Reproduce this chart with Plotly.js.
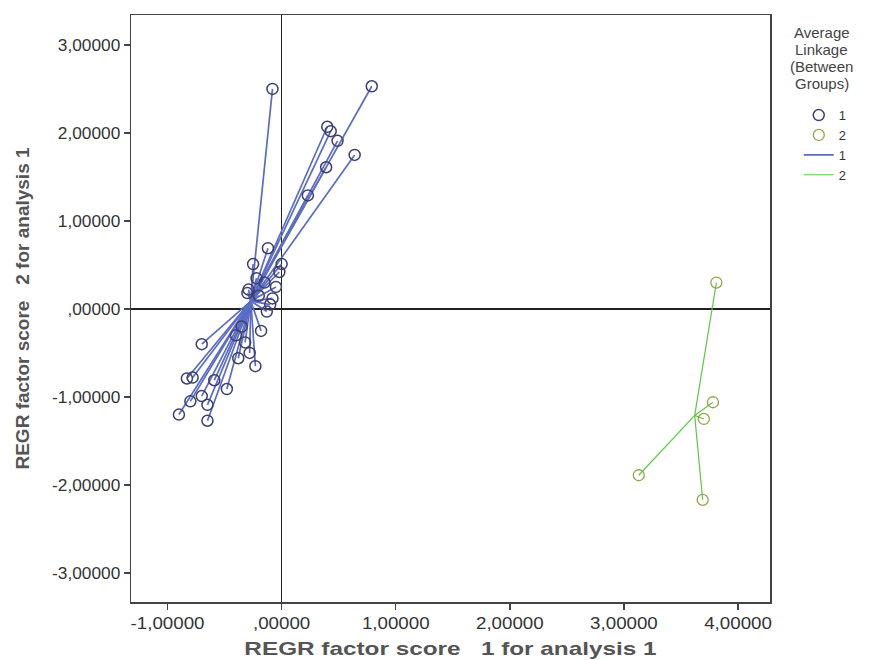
<!DOCTYPE html>
<html><head><meta charset="utf-8">
<script src="https://cdn.plot.ly/plotly-3.0.1.min.js"></script>
<style>body{margin:0;background:#fff}#chart{width:873px;height:660px}</style>
</head><body><div id="chart"></div>
<script>
// Cluster 1 (REGR factor score 1, factor score 2)
const c1x = [-0.08, 0.79, 0.40, 0.43, 0.49, 0.64, 0.39, 0.23, -0.12, -0.25, 0.00, -0.02, -0.29, -0.08, -0.13,
             -0.70, -0.32, -0.28, -0.23, -0.38, -0.83, -0.78, -0.59, -0.48, -0.70, -0.80, -0.65, -0.90, -0.65,
             -0.30, -0.20, -0.15, -0.22, -0.05, -0.35, -0.40, -0.18, -0.10];
const c1y = [2.50, 2.53, 2.07, 2.02, 1.91, 1.75, 1.61, 1.29, 0.69, 0.51, 0.51, 0.42, 0.22, 0.12, -0.03,
             -0.40, -0.38, -0.50, -0.65, -0.56, -0.79, -0.78, -0.81, -0.91, -0.99, -1.05, -1.09, -1.20, -1.27,
             0.18, 0.15, 0.30, 0.35, 0.25, -0.20, -0.30, -0.25, 0.05];
const c1center = [-0.27, 0.09];
// Cluster 2
const c2x = [3.81, 3.78, 3.70, 3.13, 3.69];
const c2y = [0.30, -1.06, -1.25, -1.89, -2.17];
const c2center = [3.62, -1.21];
// Tick labels
const xTickVals = [-1, 0, 1, 2, 3, 4];
const xTickText = ["-1,00000", ",00000", "1,00000", "2,00000", "3,00000", "4,00000"];
const yTickVals = [-3, -2, -1, 0, 1, 2, 3];
const yTickText = ["-3,00000", "-2,00000", "-1,00000", ",00000", "1,00000", "2,00000", "3,00000"];
// Legend title lines
const legendTitleLines = ["Average", "Linkage", "(Between", "Groups)"];

function spokes(xs, ys, c) {
  const sx = [], sy = [];
  xs.forEach((x, i) => { sx.push(c[0], x, null); sy.push(c[1], ys[i], null); });
  return {x: sx, y: sy};
}
const s1 = spokes(c1x, c1y, c1center);
const s2 = spokes(c2x, c2y, c2center);

const FONT = 'Liberation Sans, Arial, sans-serif';

const traces = [
  {x: s1.x, y: s1.y, mode: 'lines', name: '1', legendrank: 3, line: {color: '#5a6cc4', width: 1.7}, hoverinfo: 'skip'},
  {x: s2.x, y: s2.y, mode: 'lines', name: '2', legendrank: 4, line: {color: '#5cc84a', width: 1.2}, hoverinfo: 'skip'},
  {x: c1x, y: c1y, mode: 'markers', name: '1', legendrank: 1,
   marker: {symbol: 'circle-open', size: 11, color: '#3d3f6e', line: {width: 1.5}}},
  {x: c2x, y: c2y, mode: 'markers', name: '2', legendrank: 2,
   marker: {symbol: 'circle-open', size: 11, color: '#9aa24a', line: {width: 1.3}}}
];

const axCommon = {
  showgrid: false, zeroline: true, zerolinecolor: '#222', zerolinewidth: 1.5,
  showline: true, linecolor: '#444', linewidth: 1.5, mirror: true,
  ticks: 'outside', ticklen: 6, tickcolor: '#444', tickwidth: 1.5,
  tickfont: {family: FONT, size: 16, color: '#333'}
};

const layout = {
  width: 873, height: 660,
  margin: {l: 131, r: 103, t: 15, b: 58},
  paper_bgcolor: '#fff', plot_bgcolor: '#fff',
  showlegend: true,
  xaxis: Object.assign({}, axCommon, {
    range: [-1.32, 4.28], tickvals: xTickVals, ticktext: xTickText,
    title: {text: 'REGR factor score   1 for analysis 1', standoff: 11,
            font: {family: FONT, size: 19, color: '#555', weight: 'bold'}}
  }),
  yaxis: Object.assign({}, axCommon, {
    range: [-3.33, 3.34], tickvals: yTickVals, ticktext: yTickText,
    title: {text: 'REGR factor score   2 for analysis 1', standoff: 22,
            font: {family: FONT, size: 19, color: '#555', weight: 'bold'}}
  }),
  annotations: legendTitleLines.map((t, i) => ({
    xref: 'paper', yref: 'paper', x: 1.081, y: 0.971 - i * 0.029, xanchor: 'center', yanchor: 'middle',
    text: t, showarrow: false, font: {family: FONT, size: 15, color: '#444'}
  })),
  legend: {
    x: 1.045, xanchor: 'left', y: 0.855, yanchor: 'top',
    font: {family: FONT, size: 13, color: '#333'},
    tracegroupgap: 0, itemwidth: 30, bgcolor: 'rgba(0,0,0,0)'
  }
};

Plotly.newPlot('chart', traces, layout, {displayModeBar: false, staticPlot: true}).then(gd => {
  // the reference picture is slightly stretched horizontally
  const stretch = (sel, k) => gd.querySelectorAll(sel).forEach(t => {
    const w = t.getComputedTextLength();
    if (w > 0) { t.setAttribute('textLength', (w * k).toFixed(1)); t.setAttribute('lengthAdjust', 'spacingAndGlyphs'); }
  });
  stretch('.xtick text', 1.17);
  stretch('.ytick text', 1.08);
  stretch('.g-xtitle text', 1.28);
});
</script>
</body></html>
